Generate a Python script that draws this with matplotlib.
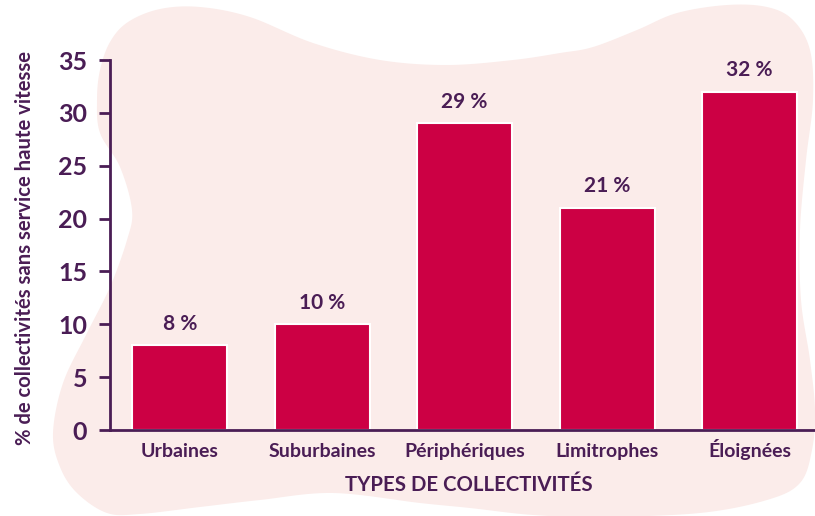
import numpy as np
import matplotlib
matplotlib.use("Agg")
import matplotlib.pyplot as plt
from matplotlib.patches import Polygon

categories = ["Urbaines", "Suburbaines", "Périphériques", "Limitrophes", "Éloignées"]
values = [8, 10, 29, 21, 32]
value_labels = ["8 %", "10 %", "29 %", "21 %", "32 %"]
yticks = [0, 5, 10, 15, 20, 25, 30, 35]
ylabel = "% de collectivités sans service haute vitesse"
xlabel = "TYPES DE COLLECTIVITÉS"

BAR = "#CC0044"
TXT = "#4A1D55"
BLOB = "#FBECEA"
FONT = ["Lato", "DejaVu Sans"]

W, H = 815, 516
fig = plt.figure(figsize=(W / 100, H / 100), dpi=100)

# decorative background blob (pixel coords, y down)
blob_pts = np.array([
    (97, 100), (100, 70), (110, 42), (128, 22), (160, 9), (200, 7), (250, 17),
    (313, 43), (380, 60), (447, 65), (513, 60), (560, 53), (593, 47), (637, 30),
    (677, 13), (727, 5), (767, 7), (793, 20), (810, 50), (813, 100), (806, 160),
    (800, 230), (801, 300), (810, 360), (815, 410), (812, 450), (800, 483),
    (767, 500), (700, 513), (600, 517), (533, 515), (470, 508), (420, 503),
    (333, 493), (260, 500), (200, 507), (140, 514), (107, 513), (77, 493),
    (60, 467), (53, 433), (63, 383), (87, 333), (110, 287), (127, 240),
    (132, 210), (120, 167), (100, 133),
], dtype=float)

def catmull_closed(p, n=12):
    out = []
    m = len(p)
    for i in range(m):
        p0, p1, p2, p3 = p[i - 1], p[i], p[(i + 1) % m], p[(i + 2) % m]
        for t in np.linspace(0, 1, n, endpoint=False):
            t2, t3 = t * t, t * t * t
            out.append(0.5 * ((2 * p1) + (-p0 + p2) * t + (2 * p0 - 5 * p1 + 4 * p2 - p3) * t2
                              + (-p0 + 3 * p1 - 3 * p2 + p3) * t3))
    return np.array(out)

smooth = catmull_closed(blob_pts)
fig_xy = np.column_stack([smooth[:, 0] / W, 1 - smooth[:, 1] / H])
fig.patches.append(Polygon(fig_xy, closed=True, transform=fig.transFigure,
                           facecolor=BLOB, edgecolor="none", zorder=-10))

ax = fig.add_axes([110 / W, 1 - 430 / H, 1 - 110 / W, (430 - 60) / H])
ax.set_zorder(5)
ax.patch.set_alpha(0)

x = np.arange(len(categories))
ax.bar(x, values, width=0.667, color=BAR, edgecolor="white", linewidth=1.5, zorder=2)
for xi, v, lab in zip(x, values, value_labels):
    ax.text(xi, v + 1.1, lab, ha="center", va="bottom", color=TXT,
            fontsize=15, fontweight="bold", family=FONT)

ax.set_xlim(-0.49, 4.46)
ax.set_ylim(0, 35)
ax.set_yticks(yticks)
ax.set_yticklabels([str(t) for t in yticks], fontsize=18, fontweight="bold",
                   color=TXT, family=FONT)
ax.set_xticks(x)
ax.set_xticklabels(categories, fontsize=14, fontweight="bold", color=TXT, family=FONT)
for lab in ax.get_xticklabels():
    lab.set_va("baseline")

for s in ["top", "right"]:
    ax.spines[s].set_visible(False)
for s in ["left", "bottom"]:
    ax.spines[s].set_color(TXT)
    ax.spines[s].set_linewidth(2)
ax.tick_params(axis="y", length=8, width=2, color=TXT, pad=8.5)
ax.tick_params(axis="x", length=0, pad=19.5)

fig.text(25 / W, 1 - 248 / H, ylabel, rotation=90, ha="center", va="center",
         color=TXT, fontsize=14.6, fontweight="bold", family=FONT)
fig.text(469 / W, 1 - 485 / H, xlabel, ha="center", va="center",
         color=TXT, fontsize=14.7, fontweight="bold", family=FONT)

fig.savefig("out.png", dpi=100)
